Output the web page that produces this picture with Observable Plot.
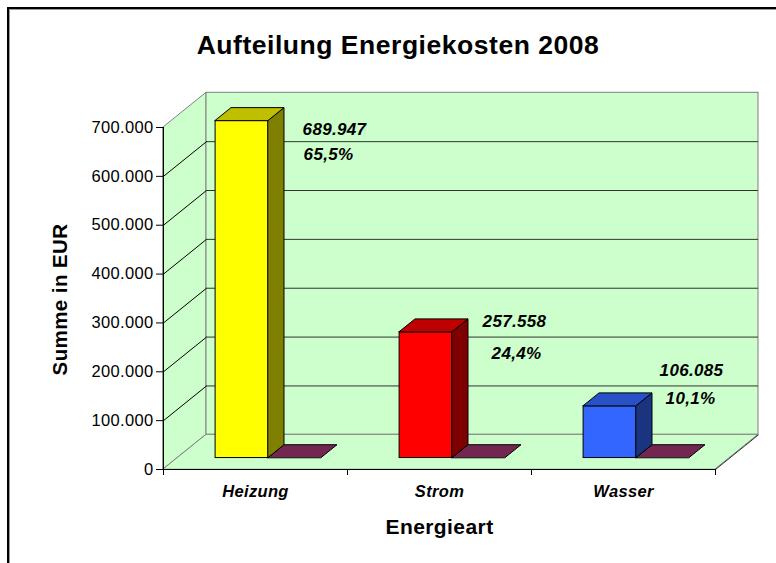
<!DOCTYPE html>
<html>
<head>
<meta charset="utf-8">
<script src="https://cdn.jsdelivr.net/npm/d3@7"></script>
<script src="https://cdn.jsdelivr.net/npm/@observablehq/plot@0.6"></script>
<style>
  html, body { margin: 0; padding: 0; background: #fff; }
  #wrap { position: relative; width: 776px; height: 563px; overflow: hidden; }
  #frame { position: absolute; left: 7px; top: 7px; width: 900px; height: 700px;
           border-left: 2px solid #000; border-top: 2px solid #000;
           box-shadow: inset 1px 1px 0 #999; pointer-events: none; }
  svg text { letter-spacing: 0.02em; }
</style>
</head>
<body>
<div id="wrap"><div id="chart"></div><div id="frame"></div></div>
<script>
// ---- data ----
const categories = ["Heizung", "Strom", "Wasser"];
const values = [689947, 257558, 106085];
const percents = [65.5, 24.4, 10.1];
const yTicks = [0, 100000, 200000, 300000, 400000, 500000, 600000, 700000];
const title = "Aufteilung Energiekosten 2008";
const yTitle = "Summe in EUR";
const xTitle = "Energieart";

// ---- styles ----
const frontColors = ["#FFFF00", "#FF0000", "#3366FF"];
const topColors = ["#BFBF00", "#BF0000", "#2A50C8"];
const sideColors = ["#7F7F00", "#7F0000", "#1A3480"];
const series2Top = "#732650";
const WALL = "#CCFFCC", EDGE = "#808080";
const FONT = "'Liberation Sans', Arial, Helvetica, sans-serif";

// ---- layout ----
const W = 776, H = 563;
const M = {left: 163, right: 61, top: 127, bottom: 94};
const ymax = 700000;
const pxX = 3 / (W - M.left - M.right);
const pxY = ymax / (H - M.top - M.bottom);
const DX = 43 * pxX, DY = 34.7 * pxY;       // depth of the 3D box
const F1 = 0.33, F2 = 0.70;                 // bar front/back depth fractions
const BW = 0.288, SH = -0.006;              // bar width, shift (category units)
// label pixel offsets from each bar's front-top-right corner: [valDx, valDy, pctDx, pctDy]
const labelOffsets = [[34, 9, 35, 34], [30, -11, 39, 21], [23, -36, 29, -8]];

const loc = d3.formatLocale({decimal: ",", thousands: ".", grouping: [3], currency: ["", "€"]});
const fmtInt = loc.format(",d");
const fmtPct = loc.format(",.1f");

const marks = [];
// walls and floor
marks.push(Plot.areaY([{x: 0, y1: 0, y2: ymax}, {x: DX, y1: DY, y2: ymax + DY}],
  {x: "x", y1: "y1", y2: "y2", fill: WALL, stroke: EDGE}));
marks.push(Plot.rect([{a: DX, b: 3 + DX, c: DY, d: ymax + DY}],
  {x1: "a", x2: "b", y1: "c", y2: "d", fill: WALL, stroke: EDGE}));
marks.push(Plot.areaX([{y: 0, x1: 0, x2: 3}, {y: DY, x1: DX, x2: 3 + DX}],
  {y: "y", x1: "x1", x2: "x2", fill: WALL, stroke: EDGE}));
// gridlines
const gridVals = yTicks.filter(v => v > 0 && v < ymax);
marks.push(Plot.ruleY(gridVals, {y: d => d + DY, x1: () => DX, x2: () => 3 + DX, stroke: "#333"}));
marks.push(Plot.link(gridVals, {x1: () => 0, y1: d => d, x2: () => DX, y2: d => d + DY, stroke: "#000"}));
// front edges
marks.push(Plot.ruleY([0], {x1: () => 0, x2: () => 3, stroke: "#000"}));
marks.push(Plot.link([0], {x1: () => 3, y1: () => 0, x2: () => 3 + DX, y2: () => DY, stroke: "#333"}));
marks.push(Plot.ruleX([0], {y1: () => 0, y2: () => ymax, stroke: "#000"}));

// bars
values.forEach((v, i) => {
  const R = i + 0.5 + SH, L = R - BW;
  // series 2 (flat)
  marks.push(Plot.areaX([
    {y: F1 * DY, x1: R + F1 * DX, x2: R + BW + F1 * DX},
    {y: F2 * DY, x1: R + F2 * DX, x2: R + BW + F2 * DX}],
    {y: "y", x1: "x1", x2: "x2", fill: series2Top, stroke: "#000", strokeWidth: 1}));
  // front
  marks.push(Plot.rect([{a: L + F1 * DX, b: R + F1 * DX, c: F1 * DY, d: v + F1 * DY}],
    {x1: "a", x2: "b", y1: "c", y2: "d", fill: frontColors[i], stroke: "#000", strokeWidth: 1}));
  // side
  marks.push(Plot.areaY([
    {x: R + F1 * DX, y1: F1 * DY, y2: v + F1 * DY},
    {x: R + F2 * DX, y1: F2 * DY, y2: v + F2 * DY}],
    {x: "x", y1: "y1", y2: "y2", fill: sideColors[i], stroke: "#000", strokeWidth: 1}));
  // top
  marks.push(Plot.areaX([
    {y: v + F1 * DY, x1: L + F1 * DX, x2: R + F1 * DX},
    {y: v + F2 * DY, x1: L + F2 * DX, x2: R + F2 * DX}],
    {y: "y", x1: "x1", x2: "x2", fill: topColors[i], stroke: "#000", strokeWidth: 1}));
});

// data labels
const lab = [];
values.forEach((v, i) => {
  const cx = i + 0.5 + SH + F1 * DX, cy = v + F1 * DY;
  const o = labelOffsets[i];
  lab.push({t: fmtInt(v), x: cx + o[0] * pxX, y: cy - o[1] * pxY});
  lab.push({t: fmtPct(percents[i]) + "%", x: cx + o[2] * pxX, y: cy - o[3] * pxY});
});
marks.push(Plot.text(lab, {x: "x", y: "y", text: "t", textAnchor: "start", lineAnchor: "middle",
  fontSize: 17, fontWeight: "bold", fontStyle: "italic", fill: "#000"}));

// axes
marks.push(Plot.axisY({ticks: yTicks, tickFormat: fmtInt, tickSize: 7, tickPadding: 3,
  fontSize: 16.5, label: null, stroke: "#000", fill: "#000"}));
marks.push(Plot.axisX({ticks: [0, 1, 2, 3], tickFormat: () => "", tickSize: 6, label: null, stroke: "#000"}));
marks.push(Plot.text(categories, {x: (d, i) => i + 0.5, y: () => 0, dy: 22, text: d => d,
  textAnchor: "middle", lineAnchor: "middle", fontSize: 16.5, fontWeight: "bold", fontStyle: "italic", fill: "#000"}));

// titles
marks.push(Plot.text([title], {frameAnchor: "top", dx: -41.5, dy: -82, textAnchor: "middle",
  lineAnchor: "middle", fontSize: 26.5, fontWeight: "bold", fill: "#000"}));
marks.push(Plot.text([yTitle], {frameAnchor: "left", dx: -103, dy: 1, rotate: -90, textAnchor: "middle",
  lineAnchor: "middle", fontSize: 20.5, fontWeight: "bold", fill: "#000"}));
marks.push(Plot.text([xTitle], {frameAnchor: "bottom", dy: 58, textAnchor: "middle",
  lineAnchor: "middle", fontSize: 21, fontWeight: "bold", fill: "#000"}));

const chart = Plot.plot({
  width: W, height: H,
  marginLeft: M.left, marginRight: M.right, marginTop: M.top, marginBottom: M.bottom,
  x: {domain: [0, 3]},
  y: {domain: [0, ymax]},
  style: {fontFamily: FONT, fontSize: "15px", background: "#fff", color: "#000", overflow: "visible"},
  marks
});
document.getElementById("chart").appendChild(chart);
</script>
</body>
</html>
